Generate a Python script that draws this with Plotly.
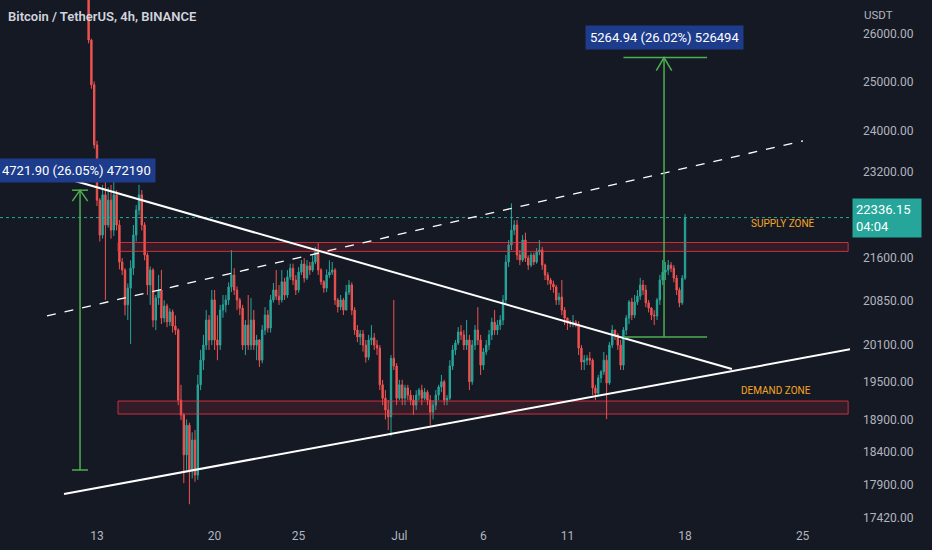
import numpy as np
import pandas as pd
import plotly.graph_objects as go

# BTC/USDT 4h candles (Binance); first candle 2022-06-12 12:00
first_open = 27100
closes = [
    25870, 24930, 23720,
    22660, 22015, 22760, 22200, 22660, 22106,   # Jun 13
    22760, 22200, 21530, 21387, 20780, 21070,
    21420, 22015, 22475, 22760, 22200, 21655,
    21125, 21387, 20520, 20900, 21037, 20555,
    20760, 20490, 20660, 20420, 20352, 19205,
    18970, 18355, 18810, 18125, 18580, 18050,   # Jun 18
    19450, 19850, 20100, 20520, 20185, 20865,
    20185, 20100, 20690, 20780, 20865, 21090,
    21300, 21037, 20865, 20725, 20100, 20435,
    20100, 20520, 20100, 20185, 19850, 20352,
    20605, 20385, 20865, 21037, 20930, 20865,
    21180, 20950, 21265, 21420, 21211, 21037,   # Jun 25
    21350, 21495, 21245, 21460, 21387, 21530,
    21710, 21387, 21180, 21070, 21300, 21350,
    21387, 20865, 20745, 20865, 20690, 21000,
    21125, 20690, 20352, 20235, 20285, 20100,
    19900, 20185, 20220, 20100, 20050, 19450,
    19235, 19048, 18940, 19880, 19755, 19235,   # Jun 30
    19450, 19235, 19400, 19285, 19205, 19125,
    19285, 19365, 19235, 19330, 19205, 19015,
    19125, 19285, 19415, 19500, 19205, 19235,
    19755, 20019, 20135, 20320, 20270, 20100,
    20185, 19500, 20100, 20352, 20185, 19770,
    19985, 20100, 20270, 20485, 20352, 20435,
    20520, 20865, 21530, 21835, 22106, 22200,   # Jul 7
    21655, 21566, 21925, 21600, 21475, 21655,
    21530, 21710, 21744, 21475, 21300, 21211,
    21140, 21090, 20865, 20915, 20690, 20555,
    20485, 20470, 20485, 20450, 20050, 19820,
    19850, 19880, 19850, 19400, 19315, 19560,
    19660, 19850, 19480, 20100, 20352, 20270,   # Jul 13
    20100, 19770, 20352, 20555, 20830, 20605,
    20830, 20930, 21125, 21037, 20815, 20725,
    20605, 20590, 20865, 21211, 21350, 21387,
    21475, 21420, 21245, 21037, 20815, 21245,
    22336.15,
]
highs = [
    27200, 25900, 25000,
    23800, 22700, 22950, 23000, 22900, 22950,
    23230, 22850, 22290, 21600, 21420, 21150,
    21560, 22200, 22570, 22950, 22850, 22250,
    21700, 21450, 21420, 20950, 21300, 21390,
    20860, 20800, 20720, 20700, 20600, 20380,
    19450, 19000, 18900, 18850, 18700, 18735,
    19610, 20020, 20270, 20690, 20605, 21037,
    21037, 20600, 20780, 20950, 20950, 21170,
    21744, 21420, 21100, 20900, 20780, 20520,
    20950, 20900, 20690, 20270, 20200, 20435,
    20740, 20690, 20950, 21160, 21387, 21125,
    21387, 21250, 21387, 21500, 21500, 21300,
    21440, 21566, 21600, 21566, 21530, 21655,
    21800, 21868, 21420, 21211, 21400, 21560,
    21530, 21420, 20900, 20950, 20900, 21125,
    21211, 21170, 20740, 20435, 20352, 20352,
    20185, 20270, 20435, 20300, 20185, 20100,
    19530, 19365, 19205, 19935, 20865, 19800,
    19530, 19530, 19450, 19450, 19365, 19285,
    19365, 19400, 19450, 19400, 19365, 19285,
    19205, 19365, 19450, 19610, 19530, 19285,
    19850, 20100, 20185, 20400, 20435, 20350,
    20520, 20270, 20185, 20435, 20740, 20270,
    20050, 20185, 20352, 20560, 20690, 20520,
    20605, 20950, 21655, 21925, 22600, 22290,
    22290, 21744, 22015, 22060, 21650, 21700,
    21700, 21780, 21925, 21800, 21500, 21350,
    21250, 21200, 21125, 20990, 21211, 20740,
    20560, 20520, 20605, 20520, 20500, 20100,
    19935, 19935, 19985, 19880, 19450, 19610,
    19690, 19985, 19935, 20150, 20435, 20352,
    20300, 20185, 20400, 20605, 20865, 20900,
    20950, 21037, 21250, 21211, 21125, 20865,
    20740, 20690, 20900, 21300, 21566, 21530,
    21566, 21530, 21475, 21300, 21080, 21300,
    22400,
]
lows = [
    25800, 24850, 23650,
    22550, 21900, 21950, 20865, 22150, 21950,
    22000, 22100, 21400, 21300, 20600, 20520,
    20120, 21300, 21900, 22380, 22100, 21560,
    20950, 20780, 20400, 20350, 20780, 20450,
    20480, 20400, 20420, 20310, 20270, 19125,
    18890, 17930, 18130, 17620, 18000, 17950,
    17980, 19365, 19690, 20019, 20019, 20100,
    20019, 19850, 20019, 20560, 20650, 20780,
    21000, 20950, 20690, 20605, 20019, 19935,
    20019, 20019, 20019, 19850, 19740, 19800,
    20270, 20310, 20310, 20820, 20865, 20780,
    20820, 20865, 20900, 21211, 21125, 20950,
    20990, 21300, 21170, 21211, 21300, 21350,
    21490, 21300, 21125, 20990, 21000, 21250,
    21300, 20780, 20650, 20690, 20605, 20690,
    20950, 20605, 20270, 20150, 20100, 19990,
    19810, 19850, 20100, 20019, 19935, 19365,
    19125, 18900, 18735, 18640, 19690, 19125,
    19205, 19125, 19125, 19205, 19125, 18970,
    19048, 19205, 19125, 19205, 19125, 18810,
    18900, 19048, 19205, 19330, 19125, 19125,
    19205, 19690, 19935, 20100, 20185, 20019,
    20019, 19365, 19450, 20019, 20100, 19610,
    19690, 19935, 20019, 20185, 20270, 20270,
    20352, 20435, 20780, 21440, 21744, 22015,
    21566, 21475, 21530, 21530, 21390, 21440,
    21475, 21500, 21650, 21390, 21211, 21125,
    21037, 20990, 20780, 20780, 20605, 20435,
    20352, 20400, 20400, 20400, 19935, 19690,
    19690, 19770, 19770, 19285, 19205, 19285,
    19480, 19610, 18905, 19450, 20050, 20185,
    20019, 19690, 19690, 20270, 20450, 20520,
    20555, 20780, 20865, 20950, 20740, 20650,
    20520, 20435, 20520, 20780, 21125, 21211,
    21300, 21350, 21170, 20950, 20740, 20780,
    21211,
]

# right price scale and date scale labels
price_ticks = [26000, 25000, 24000, 23200, 21600, 20850, 20100, 19500, 18900, 18400, 17900, 17420]
day_ticks = ["2022-06-13", "2022-06-20", "2022-06-25", "2022-07-01",
             "2022-07-06", "2022-07-11", "2022-07-18", "2022-07-25"]
day_labels = ["13", "20", "25", "Jul", "6", "11", "18", "25"]
x_range = ["2022-06-07 05:26", "2022-07-27 19:40"]
y_range = [17291, 26742]
last_price = 22336.15
countdown = "04:04"

# drawings (time, price anchors)
upper_line = (["2022-06-11 06:35", "2022-07-20 19:00"], [23060, 19705])
lower_line = (["2022-06-11 00:50", "2022-07-27 22:30"], [17770, 20035])
dashed_line = (["2022-06-10 00:35", "2022-07-25 00:30"], [20590, 23800])
zone_span = ["2022-06-14 06:00", "2022-07-27 17:00"]
supply_zone = [21720, 21880]
demand_zone = [18985, 19190]
left_range = {"x": "2022-06-11 23:45", "x0": "2022-06-11 12:20", "x1": "2022-06-12 11:10",
              "lo": 18126.3, "hi": 22848.2, "text": "4721.90 (26.05%) 472190",
              "label_x": "2022-06-11 19:00", "label_y": 23214}
right_range = {"x": "2022-07-16 18:00", "x0": "2022-07-14 08:00", "x1": "2022-07-19 07:30",
               "lo": 20234.2, "hi": 25499.1, "text": "5264.94 (26.02%) 526494",
               "label_x": "2022-07-16 18:00", "label_y": 25935}

BG = "#151924"
UP = "#26a69a"
DOWN = "#ef5350"
AXIS_TXT = "#b2b5be"
GREEN = "#4caf50"
FONT = "Roboto"

times = pd.date_range("2022-06-12 12:00", periods=len(closes), freq="4h")
opens = [first_open] + closes[:-1]   # 24/7 market: every candle opens at the previous close
highs = [max(h, o, c) for h, o, c in zip(highs, opens, closes)]
lows = [min(l, o, c) for l, o, c in zip(lows, opens, closes)]

fig = go.Figure()

fig.add_trace(go.Candlestick(
    x=times, open=opens, high=highs, low=lows, close=closes,
    increasing=dict(line=dict(color=UP, width=1), fillcolor=UP),
    decreasing=dict(line=dict(color=DOWN, width=1), fillcolor=DOWN),
    hoverinfo="skip", showlegend=False))

# last price dotted line
fig.add_trace(go.Scatter(x=x_range, y=[last_price, last_price], mode="lines",
                         line=dict(color=UP, width=1, dash="dot"), hoverinfo="skip", showlegend=False))

# supply / demand zones
for zone in (supply_zone, demand_zone):
    fig.add_trace(go.Scatter(
        x=[zone_span[0], zone_span[1], zone_span[1], zone_span[0], zone_span[0]],
        y=[zone[0], zone[0], zone[1], zone[1], zone[0]],
        mode="lines", fill="toself", fillcolor="rgba(242,54,69,0.13)",
        line=dict(color="rgba(242,54,69,0.8)", width=1), hoverinfo="skip", showlegend=False))

# triangle and channel lines
for (xs, ys), dash in ((upper_line, "solid"), (lower_line, "solid"), (dashed_line, "dash")):
    fig.add_trace(go.Scatter(x=xs, y=ys, mode="lines",
                             line=dict(color="white", width=2 if dash == "solid" else 1.3, dash=dash),
                             hoverinfo="skip", showlegend=False))

# price range measurement arrows
for r, head_h in ((left_range, 11), (right_range, 13)):
    mid = pd.Timestamp(r["x"])
    half = (pd.Timestamp(r["x1"]) - pd.Timestamp(r["x0"])) / 2
    hw = min(half, pd.Timedelta(hours=11))
    drop = np.exp(-head_h / 1208.5)
    segs = [
        ([r["x0"], r["x1"]], [r["lo"], r["lo"]]),
        ([r["x0"], r["x1"]], [r["hi"], r["hi"]]),
        ([mid, mid], [r["lo"], r["hi"]]),
        ([mid - hw, mid, mid + hw], [r["hi"] * drop, r["hi"], r["hi"] * drop]),
    ]
    for xs, ys in segs:
        fig.add_trace(go.Scatter(x=xs, y=ys, mode="lines", line=dict(color=GREEN, width=1.5),
                                 hoverinfo="skip", showlegend=False))

annotations = []
for r in (left_range, right_range):
    annotations.append(dict(x=r["label_x"], y=np.log10(r["label_y"]), xref="x", yref="y",
                            text=r["text"], showarrow=False, bgcolor="#1e3c8c",
                            font=dict(color="white", size=13, family=FONT), borderpad=4))

annotations += [
    dict(x="2022-07-23 20:00", y=np.log10(22220), xref="x", yref="y", text="SUPPLY ZONE",
         showarrow=False, font=dict(color="#f5a623", size=10, family=FONT)),
    dict(x="2022-07-23 10:00", y=np.log10(19365), xref="x", yref="y", text="DEMAND ZONE",
         showarrow=False, font=dict(color="#f5a623", size=10, family=FONT)),
    dict(x=0, y=1, xref="paper", yref="paper", xanchor="left", yanchor="top", xshift=6, yshift=-7,
         text="Bitcoin / TetherUS, 4h, BINANCE", showarrow=False,
         font=dict(color="#d1d4dc", size=13, family=FONT, weight=600)),
    dict(x=1, y=1, xref="paper", yref="paper", xanchor="left", yanchor="top", xshift=12, yshift=-6,
         text="USDT", showarrow=False, font=dict(color=AXIS_TXT, size=11.5, family=FONT)),
    dict(x=1, y=np.log10(last_price), xref="paper", yref="y", xanchor="left", xshift=2,
         text=f"{last_price:.2f}<br>{countdown}", align="left", showarrow=False, width=62,
         bgcolor=UP, borderpad=3, font=dict(color="white", size=13, family=FONT)),
]

fig.update_layout(
    width=932, height=550,
    margin=dict(l=0, r=82, t=0, b=23),
    paper_bgcolor=BG, plot_bgcolor=BG,
    font=dict(family=FONT, color=AXIS_TXT, size=12),
    showlegend=False,
    annotations=annotations,
    xaxis=dict(type="date", range=x_range, tickvals=day_ticks, ticktext=day_labels,
               showgrid=False, zeroline=False, showline=False, ticks="",
               rangeslider=dict(visible=False), tickfont=dict(color=AXIS_TXT, size=12)),
    yaxis=dict(type="log", range=[np.log10(y_range[0]), np.log10(y_range[1])], side="right",
               tickvals=price_ticks, ticktext=[f"{p:.2f}" for p in price_ticks],
               showgrid=False, zeroline=False, showline=False, ticks="",
               ticklabelstandoff=12, tickfont=dict(color=AXIS_TXT, size=12)),
)

fig.write_html("out.html", config={"displayModeBar": False},
               post_script="document.body.style.margin='0';")
